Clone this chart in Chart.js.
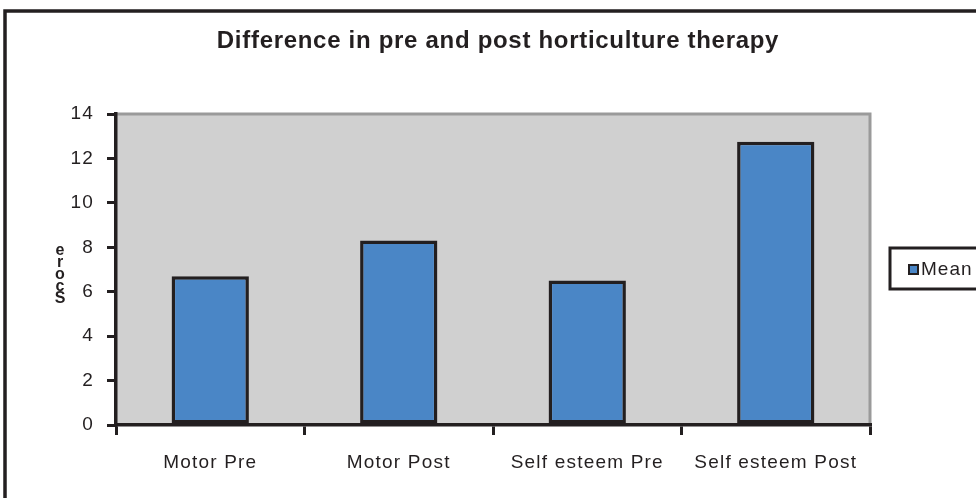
<!DOCTYPE html>
<html>
<head>
<meta charset="utf-8">
<script src="https://cdn.jsdelivr.net/npm/chart.js@4"></script>
<style>
    html, body { margin: 0; padding: 0; background: #fff; }
    #wrap { width: 976px; height: 498px; }
</style>
</head>
<body>
<div id="wrap"><canvas id="grafico" width="976" height="498"></canvas></div>
<script>
// Difference in pre and post horticulture therapy

const categorias = ["Motor Pre", "Motor Post", "Self esteem Pre", "Self esteem Post"];
const medias = [6.7, 8.3, 6.5, 12.75];
const serieNome = "Mean";
const titulo = "Difference in pre and post horticulture therapy";
const eixoY = "Score";
const yMin = 0, yMax = 14, yPasso = 2;

const FONTE = "'Liberation Sans', Arial, sans-serif";

// fundo cinza, moldura, titulo, legenda e rotulo do eixo
const decoracao = {
    id: "decoracao",
    beforeDraw(chart) {
        const ctx = chart.ctx;
        const a = chart.chartArea;
        ctx.letterSpacing = "1.2px";
        ctx.save();
        ctx.fillStyle = "#fff";
        ctx.fillRect(0, 0, chart.width, chart.height);

        // moldura externa
        ctx.strokeStyle = "#231f20";
        ctx.lineWidth = 3.5;
        ctx.strokeRect(5, 11, chart.width + 20, chart.height + 20);

        // area do grafico
        ctx.fillStyle = "#d0d0d0";
        ctx.fillRect(a.left, a.top, a.right - a.left, a.bottom - a.top);
        ctx.strokeStyle = "#9a9a9a";
        ctx.lineWidth = 3;
        ctx.beginPath();
        ctx.moveTo(a.left, a.top);
        ctx.lineTo(a.right, a.top);
        ctx.lineTo(a.right, a.bottom);
        ctx.stroke();
        ctx.restore();
    },
    afterDraw(chart) {
        const ctx = chart.ctx;
        ctx.save();
        ctx.fillStyle = "#231f20";
        ctx.font = "bold 24px " + FONTE;
        ctx.letterSpacing = "0.7px";
        ctx.textAlign = "center";
        ctx.textBaseline = "middle";
        ctx.fillText(titulo, 498, 41);

        // rotulo do eixo y, letras empilhadas
        ctx.letterSpacing = "0px";
        ctx.font = "bold 16px " + FONTE;
        const letras = eixoY.split("").reverse();
        letras.forEach((l, i) => ctx.fillText(l, 60, 251 + i * 12));

        // legenda
        ctx.fillStyle = "#fff";
        ctx.fillRect(890, 248, 100, 41);
        ctx.strokeStyle = "#231f20";
        ctx.lineWidth = 3;
        ctx.strokeRect(890, 248, 100, 41);
        const ds = chart.data.datasets[0];
        ctx.fillStyle = ds.backgroundColor;
        ctx.fillRect(909, 265, 9, 9);
        ctx.lineWidth = 2;
        ctx.strokeRect(909, 265, 9, 9);
        ctx.fillStyle = "#231f20";
        ctx.font = "19px " + FONTE;
        ctx.letterSpacing = "1px";
        ctx.textAlign = "left";
        ctx.fillText(ds.label, 921, 270);
        ctx.restore();
    }
};

new Chart(document.getElementById("grafico"), {
    type: "bar",
    data: {
        labels: categorias,
        datasets: [{
            label: serieNome,
            data: medias,
            backgroundColor: "#4a86c6",
            borderColor: "#231f20",
            borderWidth: 3.5,
            borderSkipped: false,
            categoryPercentage: 1,
            barPercentage: 0.41
        }]
    },
    options: {
        responsive: false,
        animation: false,
        layout: { padding: { left: 0, top: 114, right: 106, bottom: 0 } },
        plugins: {
            legend: { display: false },
            title: { display: false },
            tooltip: { enabled: false }
        },
        scales: {
            x: {
                afterFit: s => { s.height = 73; },
                grid: {
                    offset: true,
                    drawOnChartArea: false,
                    color: "#231f20",
                    lineWidth: 3,
                    tickLength: 10
                },
                border: { display: true, color: "#231f20", width: 3.5 },
                ticks: {
                    color: "#231f20",
                    font: { family: FONTE, size: 19 },
                    padding: 16,
                    maxRotation: 0
                }
            },
            y: {
                min: yMin,
                max: yMax,
                afterFit: s => { s.width = 116; },
                grid: {
                    drawOnChartArea: false,
                    color: "#231f20",
                    lineWidth: 3,
                    tickLength: 9
                },
                border: { display: true, color: "#231f20", width: 3.5 },
                ticks: {
                    stepSize: yPasso,
                    color: "#231f20",
                    font: { family: FONTE, size: 19 },
                    padding: 13
                }
            }
        }
    },
    plugins: [decoracao]
});
</script>
</body>
</html>
